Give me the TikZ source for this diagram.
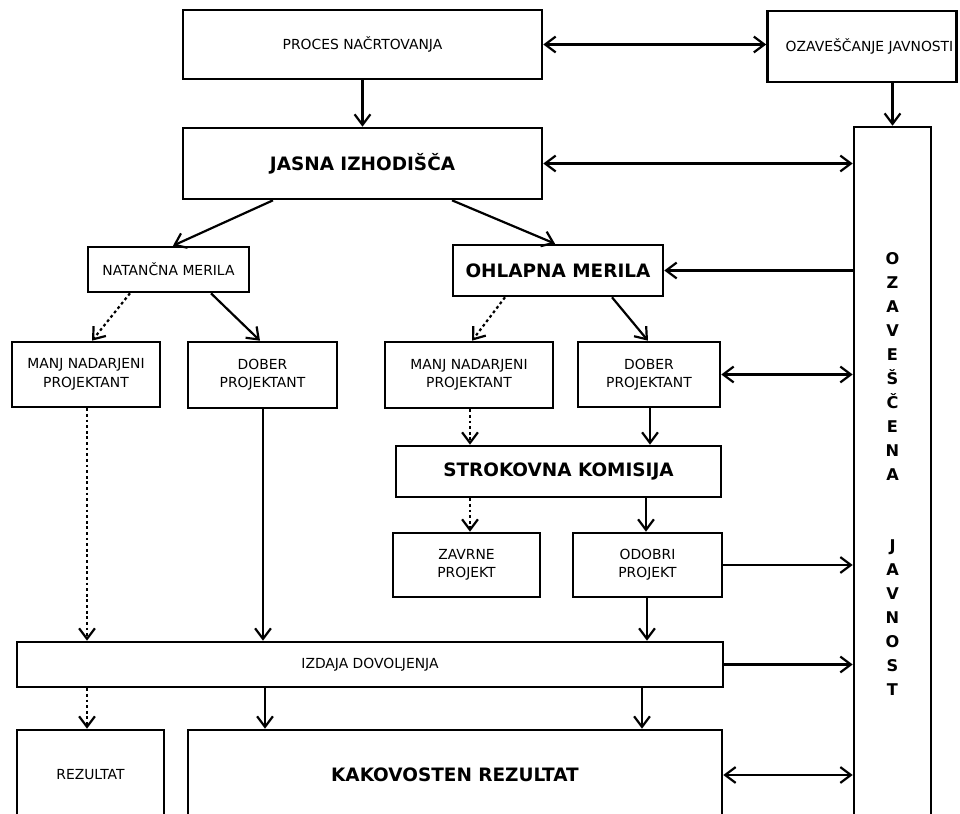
\documentclass[tikz,border=0pt]{standalone}
\usepackage{fontspec}
\setmainfont{DejaVu Sans}
\usetikzlibrary{arrows.meta}
\newcommand\regf{\fontsize{7.9}{10.5}\selectfont}
\newcommand\boldf{\fontsize{10.5}{12}\selectfont\bfseries}
\newcommand\tallf{\fontsize{9.2}{13.6}\selectfont\bfseries}
\begin{document}
\begin{tikzpicture}[x=0.02cm,y=-0.02cm,
  >={Straight Barb[length=6pt,width=9pt]},
  box/.style={draw,line width=1.5pt,inner sep=0pt,align=center,font=\regf,fill=white},
  bbox/.style={box,font=\boldf},
  conn/.style={line width=1.25pt},
  dots/.style={conn,dash pattern=on 1.6pt off 1.6pt}]
\clip (0,0) rectangle (960,814);
\fill[white] (0,0) rectangle (960,814);
% boxes
\node[box,minimum width=7.18cm,minimum height=1.38cm] (proc) at (362.5,44.5) {PROCES NAČRTOVANJA};
\node[box,minimum width=3.78cm,minimum height=1.42cm] (ozav) at (862,46.5) {\hspace*{0.3cm}OZAVEŠČANJE JAVNOSTI};
\node[bbox,minimum width=7.18cm,minimum height=1.42cm] (jasna) at (362.5,163.5) {JASNA IZHODIŠČA};
\node[box,font=\tallf,minimum width=1.54cm,minimum height=13.88cm] (tall) at (892.5,474)
  {O\\Z\\A\\V\\E\\Š\\Č\\E\\N\\A\\~\\~\\J\\A\\V\\N\\O\\S\\T};
\node[box,minimum width=3.22cm,minimum height=0.9cm] (nat) at (168.5,269.5) {NATANČNA MERILA};
\node[bbox,minimum width=4.2cm,minimum height=1.02cm] (ohl) at (558,270.5) {OHLAPNA MERILA};
\node[box,minimum width=2.96cm,minimum height=1.3cm] (manjL) at (86,374.5) {MANJ NADARJENI\\PROJEKTANT};
\node[box,minimum width=2.98cm,minimum height=1.32cm] (dobL) at (262.5,375) {DOBER\\PROJEKTANT};
\node[box,minimum width=3.36cm,minimum height=1.32cm] (manjR) at (469,375) {MANJ NADARJENI\\PROJEKTANT};
\node[box,minimum width=2.84cm,minimum height=1.3cm] (dobR) at (649,374.5) {DOBER\\PROJEKTANT};
\node[bbox,minimum width=6.5cm,minimum height=1.02cm] (strok) at (558.5,471.5) {STROKOVNA KOMISIJA};
\node[box,minimum width=2.94cm,minimum height=1.28cm] (zavr) at (466.5,565) {ZAVRNE\\PROJEKT};
\node[box,minimum width=2.98cm,minimum height=1.28cm] (odob) at (647.5,565) {ODOBRI\\PROJEKT};
\node[box,minimum width=14.12cm,minimum height=0.9cm] (izd) at (370,664.5) {IZDAJA DOVOLJENJA};
\node[box,minimum width=2.94cm,minimum height=1.8cm] (rez) at (90.5,775) {REZULTAT};
\node[bbox,minimum width=10.68cm,minimum height=1.8cm] (kak) at (455,775) {KAKOVOSTEN REZULTAT};
% connectors
\draw[conn,->] (proc.south) -- (jasna.north);
\draw[conn,<->] (proc.east) -- (proc.east -| ozav.west);
\draw[conn,->] (tall.north |- ozav.south) -- (tall.north);
\draw[conn,<->] (jasna.east) -- (jasna.east -| tall.west);
\draw[conn,->] (273,0 |- jasna.south) -- (173,0 |- nat.north);
\draw[conn,->] (452,0 |- jasna.south) -- (555,0 |- ohl.north);
\draw[conn,->] (tall.west |- ohl.east) -- (ohl.east);
\draw[dots,->] (130,0 |- nat.south) -- (92,0 |- manjL.north);
\draw[conn,->] (211,0 |- nat.south) -- (260,0 |- dobL.north);
\draw[dots,->] (505,0 |- ohl.south) -- (472,0 |- manjR.north);
\draw[conn,->] (612,0 |- ohl.south) -- (648,0 |- dobR.north);
\draw[conn,<->] (dobR.east) -- (dobR.east -| tall.west);
\draw[dots,->] (470,0 |- manjR.south) -- (470,0 |- strok.north);
\draw[conn,->] (650,0 |- dobR.south) -- (650,0 |- strok.north);
\draw[dots,->] (470,0 |- strok.south) -- (470,0 |- zavr.north);
\draw[conn,->] (646,0 |- strok.south) -- (646,0 |- odob.north);
\draw[conn,->] (odob.east) -- (odob.east -| tall.west);
\draw[dots,->] (87,0 |- manjL.south) -- (87,0 |- izd.north);
\draw[conn,->] (263,0 |- dobL.south) -- (263,0 |- izd.north);
\draw[conn,->] (647,0 |- odob.south) -- (647,0 |- izd.north);
\draw[conn,->] (izd.east) -- (izd.east -| tall.west);
\draw[dots,->] (87,0 |- izd.south) -- (87,0 |- rez.north);
\draw[conn,->] (265,0 |- izd.south) -- (265,0 |- kak.north);
\draw[conn,->] (642,0 |- izd.south) -- (642,0 |- kak.north);
\draw[conn,<->] (kak.east) -- (kak.east -| tall.west);
\end{tikzpicture}
\end{document}
